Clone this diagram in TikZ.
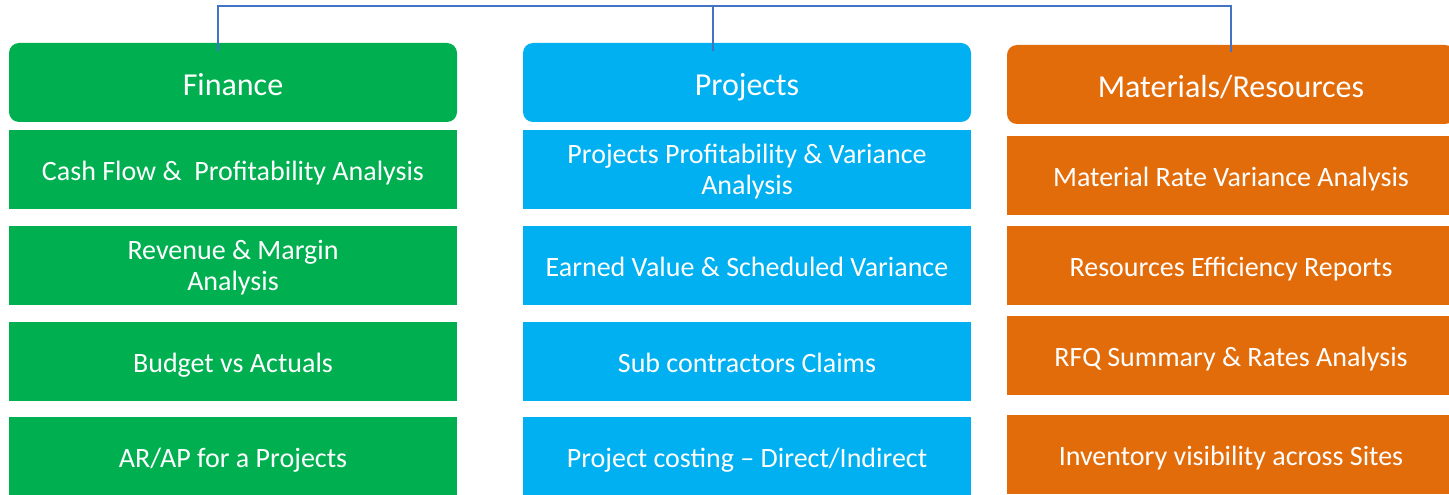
\documentclass[tikz,border=0pt]{standalone}
\usepackage{fontspec}
\setmainfont{Carlito}
\usepackage{xcolor}
\usepackage{tikz}
\usetikzlibrary{positioning,calc}

\definecolor{fingreen}{HTML}{00B050}
\definecolor{projblue}{HTML}{00B0F0}
\definecolor{matorange}{HTML}{E36C0A}
\definecolor{linkblue}{HTML}{4472C4}

% fixed struts so every line sits at the same height
\newcommand{\topstrut}[1]{\rule{0pt}{#1}}
\newcommand{\botstrut}[1]{\rule[-#1]{0pt}{#1}}
% two centred lines, set a little low in the box
\newcommand{\twolines}[2]{\raisebox{-7.4pt}[0pt][0pt]{\begin{tabular}{@{}c@{}}#1\\#2\end{tabular}}}

\tikzset{
    strut top/.store in=\boxtop, strut top=23pt,
    strut bot/.store in=\boxbot, strut bot=5.8pt,
    box/.style={rectangle, minimum width=336pt, minimum height=59.25pt, inner sep=0pt, outer sep=0pt,
        text=white, align=center, font=\fontsize{21}{23.5}\selectfont,
        execute at begin node=\topstrut{\boxtop}, execute at end node=\botstrut{\boxbot}},
    twoline/.style={strut top=0pt, strut bot=0pt},
    head/.style={box, rounded corners=7.5pt, font=\fontsize{24}{28}\selectfont,
        strut top=23.5pt, strut bot=4.2pt},
    link/.style={draw=linkblue, line width=1.1pt}
}

\begin{document}
\begin{tikzpicture}[x=0.75pt, y=-0.75pt]
    \useasboundingbox (0,0) rectangle (1449,495);

    % finance column
    \node (fin) [head, fill=fingreen] at (233,82.5) {Finance};
    \node (fin1) [box, fill=fingreen, below=6pt of fin] {Cash Flow \& \ Profitability Analysis};
    \node (fin2) [box, twoline, fill=fingreen, below=12.75pt of fin1] {\twolines{Revenue \& Margin}{Analysis}};
    \node (fin3) [box, fill=fingreen, below=12.75pt of fin2] {Budget vs Actuals};
    \node (fin4) [box, fill=fingreen, below=12pt of fin3] {AR/AP for a Projects};

    % projects column
    \node (proj) [head, fill=projblue] at (747,82.5) {Projects};
    \node (proj1) [box, twoline, fill=projblue, below=6pt of proj] {\twolines{Projects Profitability \& Variance}{Analysis}};
    \node (proj2) [box, fill=projblue, below=12.75pt of proj1] {Earned Value \& Scheduled Variance};
    \node (proj3) [box, fill=projblue, below=12.75pt of proj2] {Sub contractors Claims};
    \node (proj4) [box, fill=projblue, below=12pt of proj3] {Project costing -- Direct/Indirect};

    % materials column
    \node (mat) [head, fill=matorange] at (1231,84.5) {Materials/Resources};
    \node (mat1) [box, fill=matorange, below=9pt of mat] {Material Rate Variance Analysis};
    \node (mat2) [box, fill=matorange, below=8.25pt of mat1] {Resources Efficiency Reports};
    \node (mat3) [box, fill=matorange, below=8.25pt of mat2] {RFQ Summary \& Rates Analysis};
    \node (mat4) [box, fill=matorange, below=15pt of mat3] {Inventory visibility across Sites};

    % connector on top
    \coordinate (bus) at (713,6);
    \coordinate (finin) at ([shift={(-15,8)}]fin.north);
    \coordinate (projin) at ([shift={(-34,8)}]proj.north);
    \coordinate (matin) at ([shift={(0,7)}]mat.north);
    \draw[link] (finin) |- (bus) -| (matin);
    \draw[link] (projin) -- (projin |- bus);
\end{tikzpicture}
\end{document}
